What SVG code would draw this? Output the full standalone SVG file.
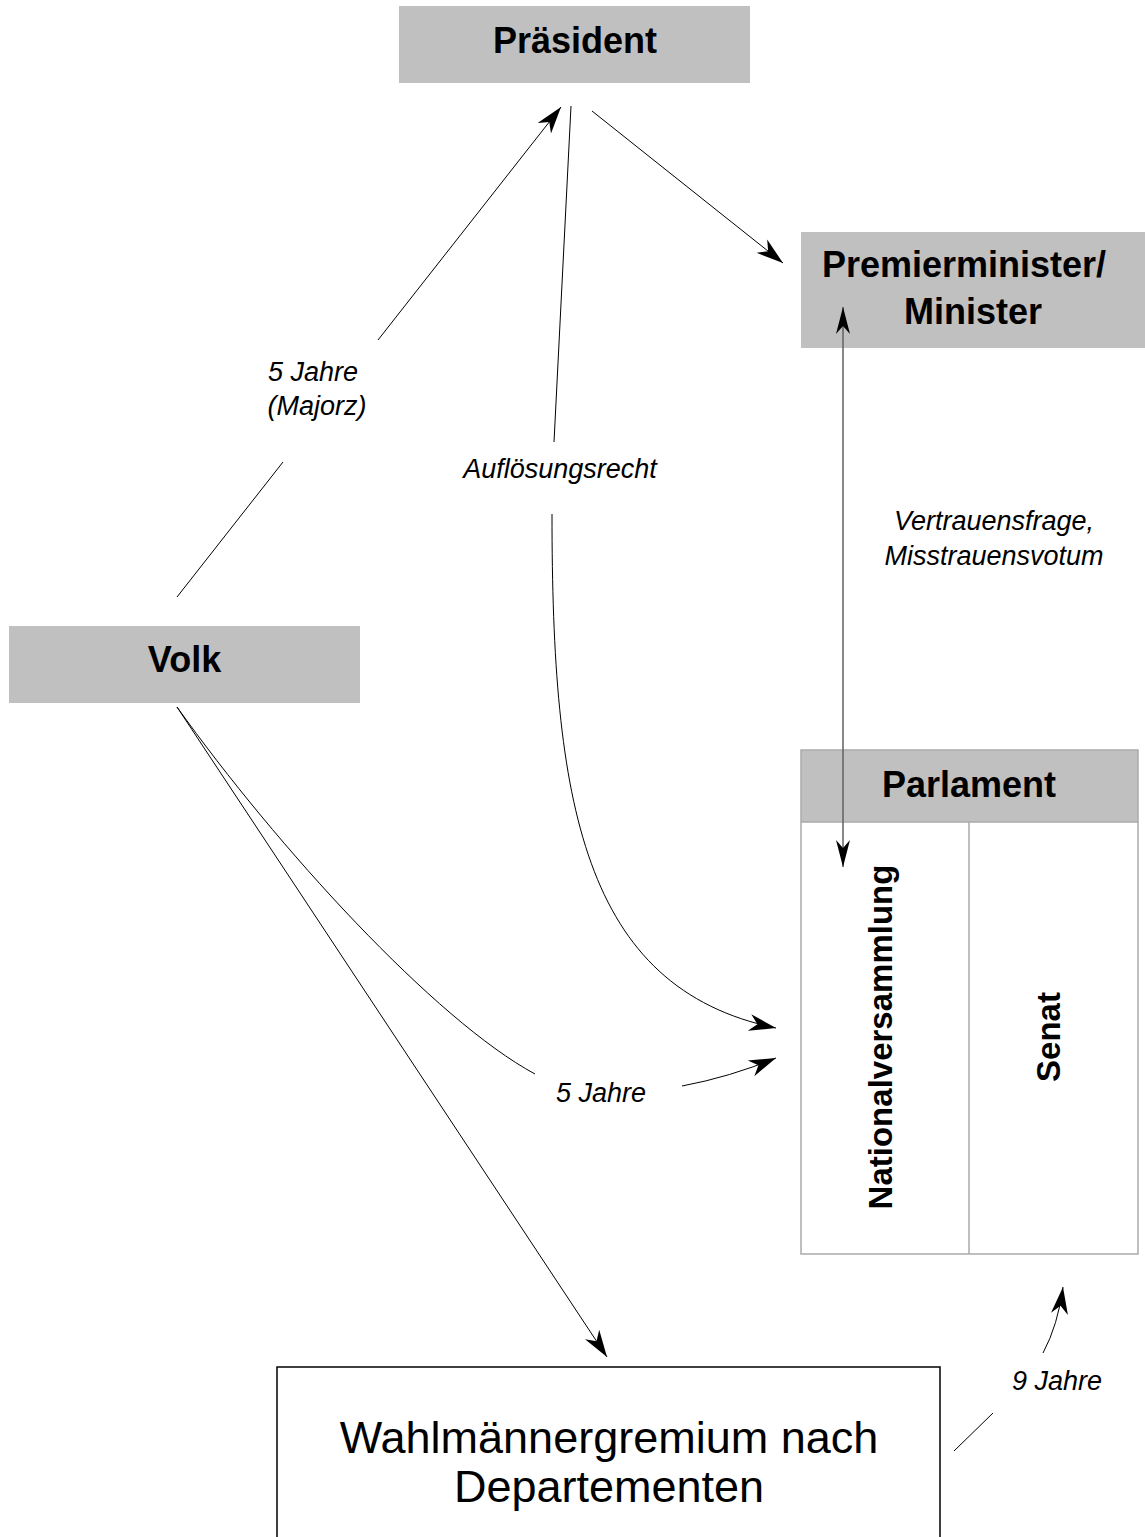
<svg xmlns="http://www.w3.org/2000/svg" width="1145" height="1537" viewBox="0 0 1145 1537">
<style>
.box{fill:#c0c0c0;stroke:none}
.title{font-family:"Liberation Sans",Arial,sans-serif;font-weight:bold;font-size:36px;fill:#000;text-anchor:middle}
.vtitle{font-family:"Liberation Sans",Arial,sans-serif;font-weight:bold;font-size:33px;fill:#000;text-anchor:middle}
.lbl{font-family:"Liberation Sans",Arial,sans-serif;font-style:italic;font-size:27px;fill:#000;text-anchor:middle}
.big{font-family:"Liberation Sans",Arial,sans-serif;font-size:45px;fill:#000;text-anchor:middle}
.ln{fill:none;stroke:#000;stroke-width:1}
.arr{marker-end:url(#ah)}
.frame{fill:none;stroke:#aaaaaa;stroke-width:1.5}
</style>
<defs>
<marker id="ah" viewBox="-30 -10 32 20" markerWidth="32" markerHeight="20" refX="0" refY="0" orient="auto" markerUnits="userSpaceOnUse" overflow="visible">
<path d="M0,0 L-27,-8.5 L-19,0 L-27,8.5 Z" fill="#000"/>
</marker>
<marker id="ah2" viewBox="-30 -10 32 20" markerWidth="32" markerHeight="20" refX="0" refY="0" orient="auto-start-reverse" markerUnits="userSpaceOnUse" overflow="visible">
<path d="M0,0 L-27,-7 L-19,0 L-27,7 Z" fill="#000"/>
</marker>
</defs>
<rect width="1145" height="1537" fill="#fff"/>

<g id="praesident">
<rect class="box" x="399" y="6" width="351" height="77"/>
<text class="title" x="575" y="53">Präsident</text>
</g>

<g id="premierminister">
<rect class="box" x="801" y="232" width="344" height="116"/>
<text class="title" x="964" y="277">Premierminister/</text>
<text class="title" x="973" y="324">Minister</text>
</g>

<g id="volk">
<rect class="box" x="9" y="626" width="351" height="77"/>
<text class="title" x="184.5" y="672">Volk</text>
</g>

<g id="parlament">
<rect class="box" x="801" y="750" width="337" height="72"/>
<rect class="frame" x="801" y="750" width="337" height="504"/>
<line class="frame" x1="801" y1="822" x2="1138" y2="822"/>
<line class="frame" x1="969" y1="822" x2="969" y2="1254"/>
<text class="title" x="969" y="797">Parlament</text>
<text class="vtitle" transform="translate(892,1037) rotate(-90)">Nationalversammlung</text>
<text class="vtitle" transform="translate(1060,1037) rotate(-90)">Senat</text>
</g>

<g id="wahlmaenner">
<rect x="277" y="1367" width="663" height="190" fill="#fff" stroke="#000" stroke-width="1.5"/>
<text class="big" x="609" y="1453">Wahlmännergremium nach</text>
<text class="big" x="609" y="1502">Departementen</text>
</g>

<g id="connectors">
<line class="ln" x1="177" y1="597" x2="283" y2="462"/>
<line class="ln arr" x1="378" y1="340" x2="561" y2="107"/>
<line class="ln arr" x1="592" y1="111" x2="783" y2="263"/>
<line class="ln" x1="571" y1="106" x2="554" y2="442"/>
<path class="ln arr" d="M552,514 C552,800 582,988 776,1028"/>
<line x1="843" y1="307" x2="843" y2="867" stroke="#606060" stroke-width="1.5" marker-start="url(#ah2)" marker-end="url(#ah2)"/>
<path class="ln" d="M177,707 C277,847 435,1020 535,1074"/>
<path class="ln arr" d="M682,1086 Q730,1077 776,1058"/>
<line class="ln arr" x1="177" y1="707" x2="607" y2="1357"/>
<line class="ln" x1="954" y1="1451" x2="993" y2="1413"/>
<path class="ln arr" d="M1043,1353 Q1058,1325 1063,1287"/>
</g>

<g id="labels">
<text class="lbl" x="313" y="381">5 Jahre</text>
<text class="lbl" x="317" y="415">(Majorz)</text>
<text class="lbl" x="560" y="478">Auflösungsrecht</text>
<text class="lbl" x="994" y="530">Vertrauensfrage,</text>
<text class="lbl" x="994" y="565">Misstrauensvotum</text>
<text class="lbl" x="601" y="1102">5 Jahre</text>
<text class="lbl" x="1057" y="1390">9 Jahre</text>
</g>
</svg>
